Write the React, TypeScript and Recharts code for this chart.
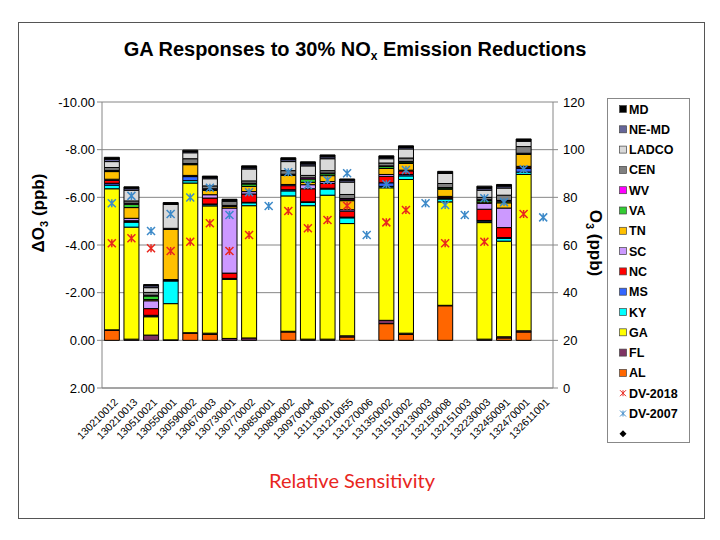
import React from 'react';
import { ComposedChart, Bar, Line, XAxis, YAxis, CartesianGrid } from 'recharts';

const sites = ['130210012','130210013','130510021','130550001','130590002','130670003','130730001','130770002','130850001','130890002','130970004','131130001','131210055','131270006','131350002','131510002','132130003','132150008','132151003','132230003','132450091','132470001','132611001'];

// Delta O3 contributions (ppb), stacked bottom -> top
const AL =    [-0.42, 0, 0, 0, -0.3, -0.25, 0, 0, null, -0.35, 0, 0, -0.14, null, -0.7, -0.25, null, -1.45, null, 0, -0.1, -0.35, null];
const FL =    [-0.02, -0.05, -0.22, -0.02, -0.02, -0.05, -0.08, -0.1, null, -0.03, -0.05, -0.05, -0.05, null, -0.14, -0.05, null, -0.02, null, -0.05, -0.05, -0.05, null];
const GA =    [-5.92, -4.7, -0.77, -1.52, -6.28, -5.34, -2.48, -5.55, null, -5.68, -5.6, -6.04, -4.71, null, -5.56, -6.45, null, -4.34, null, -4.89, -4.01, -6.56, null];
const KY =    [-0.15, -0.21, -0.02, -0.95, -0.1, -0.05, -0.02, -0.12, null, -0.21, -0.14, -0.26, -0.24, null, -0.06, -0.15, null, -0.12, null, -0.06, -0.12, -0.1, null];
const MS =    [-0.08, -0.02, -0.04, -0.02, -0.17, -0.03, -0.02, -0.02, null, -0.05, -0.02, -0.03, -0.03, null, -0.15, -0.06, null, -0.03, null, -0.03, -0.03, -0.15, null];
const NC =    [-0.12, -0.04, -0.28, -0.02, -0.03, -0.25, -0.22, -0.35, null, -0.17, -0.55, -0.2, -0.25, null, -0.27, -0.15, null, -0.05, null, -0.47, -0.42, -0.06, null];
const SC =    [-0.05, -0.1, -0.33, -0.02, -0.02, -0.14, -2.73, -0.1, null, -0.05, -0.17, -0.08, -0.06, null, -0.08, -0.03, null, -0.03, null, -0.25, -0.82, -0.03, null];
const TN =    [-0.32, -0.45, -0.05, -2.1, -0.45, -0.18, -0.07, -0.22, null, -0.38, -0.1, -0.25, -0.38, null, -0.25, -0.28, null, -0.3, null, -0.05, -0.22, -0.5, null];
const VA =    [-0.03, -0.14, -0.15, -0.02, -0.03, -0.05, -0.02, -0.1, null, -0.03, -0.14, -0.08, -0.04, null, -0.08, -0.06, null, -0.05, null, -0.07, -0.07, -0.03, null];
const WV =    [-0.02, -0.04, -0.03, -0.01, -0.02, -0.02, -0.02, -0.03, null, -0.02, -0.05, -0.03, -0.05, null, -0.03, -0.02, null, -0.02, null, -0.03, -0.03, -0.02, null];
const CEN =   [-0.12, -0.1, -0.12, -0.02, -0.2, -0.12, -0.17, -0.1, null, -0.15, -0.1, -0.1, -0.17, null, -0.12, -0.15, null, -0.17, null, -0.1, -0.22, -0.28, null];
const LADCO = [-0.25, -0.45, -0.2, -1.0, -0.25, -0.3, -0.03, -0.5, null, -0.38, -0.4, -0.5, -0.52, null, -0.18, -0.38, null, -0.42, null, -0.3, -0.3, -0.22, null];
const NEMD =  [-0.1, -0.08, -0.08, -0.02, -0.05, -0.05, -0.03, -0.05, null, -0.08, -0.08, -0.08, -0.08, null, -0.05, -0.06, null, -0.03, null, -0.08, -0.08, -0.04, null];
const MD =    [-0.08, -0.06, -0.05, -0.06, -0.06, -0.06, -0.03, -0.08, null, -0.08, -0.09, -0.08, -0.05, null, -0.07, -0.07, null, -0.06, null, -0.09, -0.07, -0.06, null];

// Design values (ppb), right axis
const DV2018 = [60.7, 62.8, 58.6, 57.5, 61.4, 69.1, 57.5, 64.2, null, 74.3, 67.0, 70.5, 76.5, null, 69.5, 74.7, null, 60.7, null, 61.4, null, 73.0, null];
const DV2007 = [77.5, 80.6, 65.9, 73.0, 79.9, 84.0, 72.6, 82.1, 76.4, 90.5, 85.2, 87.3, 90.1, 64.2, 85.5, 91.5, 77.5, 76.8, 72.6, 79.6, 78.0, 91.8, 71.6];

const leftTicks = [-10, -8, -6, -4, -2, 0, 2];
const rightTicks = [0, 20, 40, 60, 80, 100, 120];

const states = [
  { key: 'AL', color: '#ff6600', values: AL },
  { key: 'FL', color: '#7f3363', values: FL },
  { key: 'GA', color: '#ffff00', values: GA },
  { key: 'KY', color: '#00ffff', values: KY },
  { key: 'MS', color: '#3366ff', values: MS },
  { key: 'NC', color: '#ff0000', values: NC },
  { key: 'SC', color: '#cc99ff', values: SC },
  { key: 'TN', color: '#ffc000', values: TN },
  { key: 'VA', color: '#33cc33', values: VA },
  { key: 'WV', color: '#ff00ff', values: WV },
  { key: 'CEN', color: '#808080', values: CEN },
  { key: 'LADCO', color: '#d9d9d9', values: LADCO },
  { key: 'NE-MD', color: '#666699', values: NEMD },
  { key: 'MD', color: '#000000', values: MD },
];

const RED = '#e8261e';
const BLUE = '#3d8ac9';

const data = sites.map((s, i) => {
  const row: any = { site: s, dv2018: DV2018[i], dv2007: DV2007[i] };
  states.forEach((st) => { row[st.key] = st.values[i]; });
  return row;
});

const Star = (color: string, r: number) => (props: any) => {
  const { cx, cy, value } = props;
  if (value == null || cx == null || cy == null) return <g />;
  return (
    <path
      d={`M${cx},${cy - r}L${cx},${cy + r}M${cx - r},${cy - r}L${cx + r},${cy + r}M${cx - r},${cy + r}L${cx + r},${cy - r}`}
      stroke={color}
      strokeWidth={1.5}
      fill="none"
    />
  );
};

const XTick = (props: any) => {
  const { x, y, payload } = props;
  return (
    <g transform={`translate(${x + 4},${y + 4}) rotate(-45)`}>
      <text x={0} y={0} dy={4} textAnchor="end" fontSize={10.5} fill="#000" fontFamily="Liberation Sans, Arial, sans-serif">
        {payload.value}
      </text>
    </g>
  );
};

const legendItems = [
  { label: 'MD', color: '#000000' },
  { label: 'NE-MD', color: '#666699' },
  { label: 'LADCO', color: '#d9d9d9' },
  { label: 'CEN', color: '#808080' },
  { label: 'WV', color: '#ff00ff' },
  { label: 'VA', color: '#33cc33' },
  { label: 'TN', color: '#ffc000' },
  { label: 'SC', color: '#cc99ff' },
  { label: 'NC', color: '#ff0000' },
  { label: 'MS', color: '#3366ff' },
  { label: 'KY', color: '#00ffff' },
  { label: 'GA', color: '#ffff00' },
  { label: 'FL', color: '#7f3363' },
  { label: 'AL', color: '#ff6600' },
];

export default function App() {
  const font = 'Liberation Sans, Arial, sans-serif';
  return (
    <div style={{ position: 'absolute', left: 0, top: 0, width: 720, height: 540, background: '#fff', fontFamily: font }}>
      <ComposedChart
        width={720}
        height={540}
        data={data}
        margin={{ top: 102, right: 127, bottom: 92, left: 42 }}
        barCategoryGap="12%"
      >
        <CartesianGrid vertical={false} stroke="#868686" strokeWidth={1} />
        <XAxis
          dataKey="site"
          interval={0}
          tick={<XTick />}
          tickLine={false}
          axisLine={{ stroke: '#868686' }}
          height={60}
        />
        <YAxis
          domain={[-10, 2]}
          reversed
          ticks={leftTicks}
          interval={0}
          allowDataOverflow
          tickFormatter={(v: number) => v.toFixed(2)}
          tick={{ fontSize: 13, fill: '#000', fontFamily: font }}
          tickSize={5}
          tickMargin={2}
          axisLine={{ stroke: '#868686' }}
          tickLine={{ stroke: '#868686' }}
          width={60}
        />
        <YAxis
          yAxisId="right"
          orientation="right"
          domain={[0, 120]}
          ticks={rightTicks}
          interval={0}
          tick={{ fontSize: 13, fill: '#000', fontFamily: font, textAnchor: 'start' }}
          tickSize={5}
          tickMargin={5}
          axisLine={{ stroke: '#868686' }}
          tickLine={{ stroke: '#868686' }}
          width={40}
        />
        {states.map((st) => (
          <Bar
            key={st.key}
            dataKey={st.key}
            stackId="a"
            fill={st.color}
            stroke="#000"
            strokeWidth={1}
            isAnimationActive={false}
          />
        ))}
        <Line
          yAxisId="right"
          dataKey="dv2018"
          stroke="none"
          dot={Star(RED, 4)}
          activeDot={false}
          isAnimationActive={false}
        />
        <Line
          yAxisId="right"
          dataKey="dv2007"
          stroke="none"
          dot={Star(BLUE, 4)}
          activeDot={false}
          isAnimationActive={false}
        />
      </ComposedChart>
      <svg width={720} height={540} style={{ position: 'absolute', left: 0, top: 0, pointerEvents: 'none' }}>
        <rect x={18.5} y={22.5} width={686} height={496} fill="none" stroke="#555" strokeWidth={1} />
        <text x={355} y={56} textAnchor="middle" fontSize={20} fontWeight="bold" fontFamily={font} fill="#000">
          GA Responses to 30% NO<tspan fontSize={12} dy={4}>x</tspan><tspan dy={-4}> Emission Reductions</tspan>
        </text>
        <text transform="translate(44,213) rotate(-90)" textAnchor="middle" fontSize={17} fontWeight="bold" fontFamily={font} fill="#000">
          ΔO<tspan fontSize={11} dy={4}>3</tspan><tspan dy={-4}> (ppb)</tspan>
        </text>
        <text transform="translate(590,243) rotate(90)" textAnchor="middle" fontSize={17} fontWeight="bold" fontFamily={font} fill="#000">
          O<tspan fontSize={11} dy={4}>3</tspan><tspan dy={-4}> (ppb)</tspan>
        </text>
        <rect x={607.5} y={98.5} width={82} height={344} fill="#fff" stroke="#888" strokeWidth={1} />
        {legendItems.map((it, i) => {
          const y = 109 + i * 20.3;
          return (
            <g key={it.label}>
              <rect x={619.5} y={y - 3.5} width={7} height={7} fill={it.color} stroke="#444" strokeWidth={0.7} />
              <text x={629} y={y + 4.5} fontSize={12.5} fontWeight="bold" fontFamily={font} fill="#000">{it.label}</text>
            </g>
          );
        })}
        {[{ label: 'DV-2018', color: RED }, { label: 'DV-2007', color: BLUE }].map((it, j) => {
          const y = 109 + (14 + j) * 20.3;
          const cx = 623, r = 3;
          return (
            <g key={it.label}>
              <path d={`M${cx},${y - r}L${cx},${y + r}M${cx - r},${y - r}L${cx + r},${y + r}M${cx - r},${y + r}L${cx + r},${y - r}`} stroke={it.color} strokeWidth={1} />
              <text x={629} y={y + 4.5} fontSize={12.5} fontWeight="bold" fontFamily={font} fill="#000">{it.label}</text>
            </g>
          );
        })}
        <path d={`M623,${109 + 16 * 20.3 - 3.5}L626.5,${109 + 16 * 20.3}L623,${109 + 16 * 20.3 + 3.5}L619.5,${109 + 16 * 20.3}Z`} fill="#000" />
        <text x={352} y={488} textAnchor="middle" fontSize={20} fontFamily="Lato, 'Open Sans', sans-serif" fill={RED}>
          Relative Sensitivity
        </text>
      </svg>
    </div>
  );
}
